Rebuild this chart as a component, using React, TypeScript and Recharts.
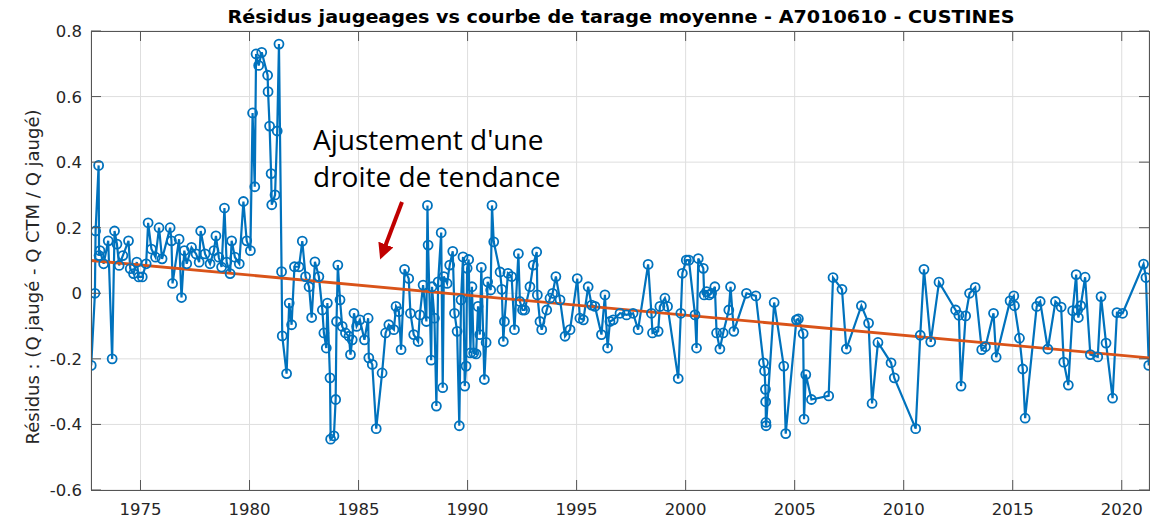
import React from "react";
import { LineChart, Line, XAxis, YAxis, CartesianGrid } from "recharts";

// dates of the gaugings (decimal years) and their residuals
const dates = [
  1972.74, 1972.91, 1972.94, 1973.08, 1973.1, 1973.14, 1973.31, 1973.52, 1973.7, 1973.81,
  1973.92, 1974.02, 1974.19, 1974.45, 1974.53, 1974.68, 1974.83, 1974.92, 1975.08, 1975.26,
  1975.35, 1975.5, 1975.69, 1975.85, 1975.99, 1976.36, 1976.42, 1976.47, 1976.77, 1976.88,
  1977.01, 1977.12, 1977.34, 1977.55, 1977.69, 1977.76, 1977.96, 1978.19, 1978.37, 1978.46,
  1978.59, 1978.72, 1978.85, 1978.95, 1979.11, 1979.18, 1979.33, 1979.53, 1979.72, 1979.87,
  1980.04, 1980.14, 1980.24, 1980.3, 1980.42, 1980.56, 1980.83, 1980.85, 1980.92, 1980.99,
  1981.02, 1981.17, 1981.27, 1981.35, 1981.47, 1981.5, 1981.7, 1981.82, 1981.93, 1982.06,
  1982.27, 1982.42, 1982.57, 1982.73, 1982.85, 1983.0, 1983.18, 1983.34, 1983.41, 1983.52,
  1983.57, 1983.69, 1983.72, 1983.87, 1983.95, 1983.99, 1984.05, 1984.15, 1984.25, 1984.4,
  1984.56, 1984.63, 1984.71, 1984.79, 1984.91, 1985.06, 1985.27, 1985.44, 1985.47, 1985.63,
  1985.81, 1986.08, 1986.24, 1986.39, 1986.62, 1986.72, 1986.85, 1986.95, 1987.11, 1987.3,
  1987.38, 1987.53, 1987.73, 1987.81, 1987.96, 1988.11, 1988.16, 1988.19, 1988.33, 1988.37,
  1988.48, 1988.57, 1988.65, 1988.79, 1988.86, 1988.91, 1989.06, 1989.18, 1989.32, 1989.4,
  1989.52, 1989.62, 1989.7, 1989.79, 1989.87, 1989.93, 1989.98, 1990.05, 1990.13, 1990.2,
  1990.28, 1990.39, 1990.48, 1990.56, 1990.63, 1990.77, 1990.85, 1990.92, 1991.06, 1991.12,
  1991.2, 1991.49, 1991.57, 1991.64, 1991.69, 1991.85, 1992.02, 1992.15, 1992.33, 1992.4,
  1992.52, 1992.62, 1992.86, 1993.01, 1993.17, 1993.2, 1993.32, 1993.4, 1993.63, 1993.78,
  1993.9, 1994.05, 1994.24, 1994.47, 1994.7, 1995.03, 1995.15, 1995.31, 1995.53, 1995.69,
  1995.84, 1996.14, 1996.3, 1996.42, 1996.53, 1996.68, 1996.99, 1997.29, 1997.59, 1997.82,
  1998.28, 1998.43, 1998.48, 1998.74, 1998.82, 1999.05, 1999.17, 1999.66, 1999.78, 1999.85,
  2000.03, 2000.15, 2000.43, 2000.5, 2000.58, 2000.81, 2000.85, 2000.96, 2001.08, 2001.19,
  2001.34, 2001.42, 2001.57, 2001.72, 2001.98, 2002.06, 2002.21, 2002.79, 2003.22, 2003.57,
  2003.62, 2003.66, 2003.67, 2003.68, 2003.69, 2004.06, 2004.5, 2004.59, 2005.08, 2005.17,
  2005.39, 2005.43, 2005.51, 2005.77, 2006.56, 2006.76, 2007.17, 2007.37, 2008.06, 2008.39,
  2008.55, 2008.82, 2009.42, 2009.57, 2010.55, 2010.76, 2010.93, 2011.24, 2011.62, 2012.38,
  2012.53, 2012.63, 2012.84, 2013.02, 2013.28, 2013.58, 2013.75, 2014.12, 2014.24, 2014.88,
  2015.05, 2015.08, 2015.31, 2015.46, 2015.57, 2016.1, 2016.26, 2016.61, 2016.96, 2017.22,
  2017.34, 2017.55, 2017.75, 2017.91, 2017.98, 2018.01, 2018.12, 2018.32, 2018.56, 2018.9,
  2019.05, 2019.28, 2019.58, 2019.78, 2020.04, 2021.0, 2021.11, 2021.24,
];

const residuals = [
  -0.22, 0.0, 0.19, 0.39, 0.115, 0.13, 0.09, 0.16, -0.2, 0.19,
  0.15, 0.085, 0.115, 0.16, 0.075, 0.06, 0.095, 0.05, 0.05, 0.09,
  0.215, 0.135, 0.11, 0.2, 0.105, 0.2, 0.16, 0.03, 0.165, -0.013,
  0.13, 0.09, 0.14, 0.12, 0.095, 0.19, 0.12, 0.09, 0.13, 0.175,
  0.11, 0.08, 0.26, 0.095, 0.06, 0.16, 0.11, 0.09, 0.28, 0.16,
  0.13, 0.55, 0.325, 0.73, 0.695, 0.735, 0.665, 0.615, 0.51, 0.365,
  0.27, 0.3, 0.495, 0.76, 0.066, -0.13, -0.245, -0.03, -0.096, 0.081,
  0.081, 0.159, 0.051, 0.02, -0.074, 0.096, 0.051, -0.051, -0.121, -0.167,
  -0.03, -0.258, -0.445, -0.435, -0.324, -0.086, 0.086, -0.02, -0.101, -0.121,
  -0.131, -0.187, -0.142, -0.061, -0.101, -0.081, -0.142, -0.076, -0.197, -0.217,
  -0.413, -0.243, -0.121, -0.096, -0.111, -0.04, -0.056, -0.172, 0.073, 0.045,
  -0.061, -0.126, -0.147, -0.066, 0.025, -0.086, 0.268, 0.147, -0.204, 0.02,
  -0.076, -0.344, 0.035, 0.185, -0.288, 0.051, 0.03, 0.086, 0.128, -0.061,
  -0.116, -0.404, -0.02, 0.111, -0.283, -0.222, 0.076, 0.103, -0.182, 0.02,
  -0.182, -0.185, -0.04, -0.126, 0.079, -0.263, -0.15, 0.035, 0.01, 0.268,
  0.157, 0.065, 0.012, -0.147, -0.086, 0.061, 0.051, -0.111, 0.121, -0.025,
  -0.051, -0.051, 0.02, 0.086, 0.126, -0.005, -0.086, -0.111, -0.051, -0.015,
  0.0, 0.051, -0.02, -0.131, -0.111, 0.045, -0.076, -0.081, 0.02, -0.036,
  -0.04, -0.126, -0.005, -0.167, -0.086, -0.081, -0.061, -0.066, -0.061, -0.111,
  0.088, -0.061, -0.121, -0.116, -0.04, -0.015, -0.04, -0.26, -0.061, 0.061,
  0.101, 0.101, -0.066, -0.167, 0.106, 0.076, -0.005, 0.005, -0.005, 0.0,
  0.02, -0.121, -0.17, -0.121, -0.051, 0.02, -0.116, 0.0, -0.008, -0.212,
  -0.237, -0.293, -0.331, -0.394, -0.404, -0.028, -0.222, -0.428, -0.081, -0.078,
  -0.123, -0.384, -0.248, -0.324, -0.313, 0.048, 0.012, -0.17, -0.038, -0.091,
  -0.336, -0.15, -0.212, -0.258, -0.413, -0.128, 0.073, -0.148, 0.034, -0.051,
  -0.067, -0.283, -0.069, 0.0, 0.018, -0.172, -0.163, -0.061, -0.195, -0.023,
  -0.008, -0.038, -0.137, -0.231, -0.381, -0.04, -0.025, -0.17, -0.025, -0.042,
  -0.21, -0.28, -0.053, 0.057, -0.051, -0.074, -0.038, 0.049, -0.187, -0.194,
  -0.01, -0.152, -0.32, -0.059, -0.061, 0.089, 0.048, -0.22,
];

// linear trend (two ends of the fitted line)
const trendDates = [1972.73, 2021.25];
const trendValues = [0.1, -0.197];

const yearTicks = [1975, 1980, 1985, 1990, 1995, 2000, 2005, 2010, 2015, 2020];
const residualTicks = [-0.6, -0.4, -0.2, 0, 0.2, 0.4, 0.6, 0.8];

const title = "Résidus jaugeages vs courbe de tarage moyenne - A7010610 - CUSTINES";
const yLabel = "Résidus : (Q jaugé - Q CTM / Q jaugé)";
const noteLines = ["Ajustement d'une", "droite de tendance"];

const residualRows = dates.map((d, i) => ({ date: d, residual: residuals[i] }));
const trendRows = trendDates.map((d, i) => ({ date: d, trend: trendValues[i] }));

const W = 1165;
const H = 519;
const PLOT = { left: 91, top: 31, width: 1058, height: 459 };
const PLOT_BOTTOM = PLOT.top + PLOT.height;
const PLOT_RIGHT = PLOT.left + PLOT.width;
const TICK_LEN = 10;
const FONT = '"DejaVu Sans", sans-serif';
const AXIS_COLOR = "#262626";
const FRAME = "#555";

const XTick = (props: any) => {
  const { x, payload } = props;
  return (
    <g>
      <line x1={x} x2={x} y1={PLOT_BOTTOM} y2={PLOT_BOTTOM - TICK_LEN} stroke={FRAME} />
      <line x1={x} x2={x} y1={PLOT.top} y2={PLOT.top + TICK_LEN} stroke={FRAME} />
      <text x={x} y={PLOT_BOTTOM + 25} textAnchor="middle" fill={AXIS_COLOR} fontSize={16.5}
        style={{ fontFamily: FONT }}>
        {payload.value}
      </text>
    </g>
  );
};

const YTick = (props: any) => {
  const { y, payload } = props;
  const v = payload.value;
  const label = Math.abs(v) < 1e-9 ? "0" : String(Number(v.toFixed(1)));
  return (
    <g>
      <line x1={PLOT.left} x2={PLOT.left + TICK_LEN} y1={y} y2={y} stroke={FRAME} />
      <line x1={PLOT_RIGHT} x2={PLOT_RIGHT - TICK_LEN} y1={y} y2={y} stroke={FRAME} />
      <text x={PLOT.left - 9} y={y} dy="0.36em" textAnchor="end" fill={AXIS_COLOR} fontSize={16.5}
        style={{ fontFamily: FONT }}>
        {label}
      </text>
    </g>
  );
};

export default function App() {
  return (
    <div style={{ position: "absolute", left: 0, top: 0, width: W, height: H, background: "#fff" }}>
      <LineChart
        width={W}
        height={H}
        data={residualRows}
        margin={{ top: PLOT.top, right: W - PLOT_RIGHT, bottom: 4, left: 31 }}
      >
        <CartesianGrid stroke="#dedede" strokeWidth={1} />
        <XAxis
          dataKey="date"
          type="number"
          domain={[1972.73, 2021.25]}
          allowDataOverflow
          ticks={yearTicks}
          interval={0}
          height={25}
          tickSize={0}
          tickLine={false}
          axisLine={false}
          tick={<XTick />}
        />
        <YAxis
          type="number"
          domain={[-0.6, 0.8]}
          allowDataOverflow
          ticks={residualTicks}
          interval={0}
          width={60}
          tickSize={0}
          tickLine={false}
          axisLine={false}
          tick={<YTick />}
        />
        <Line
          dataKey="residual"
          stroke="#0072BD"
          strokeWidth={2.2}
          dot={{ r: 4.5, stroke: "#0072BD", strokeWidth: 1.8, fill: "none" }}
          activeDot={false}
          isAnimationActive={false}
        />
        <Line
          data={trendRows}
          dataKey="trend"
          stroke="#D95319"
          strokeWidth={2.8}
          dot={false}
          activeDot={false}
          isAnimationActive={false}
        />
      </LineChart>
      <div
        style={{
          position: "absolute",
          left: PLOT.left,
          top: PLOT.top,
          width: PLOT.width + 1,
          height: PLOT.height + 1,
          border: `1px solid ${FRAME}`,
          boxSizing: "border-box",
          pointerEvents: "none",
        }}
      />
      <svg width={W} height={H} style={{ position: "absolute", left: 0, top: 0, pointerEvents: "none" }}>
        <defs>
          <marker id="head" markerWidth="4" markerHeight="4" refX="2" refY="2" orient="auto">
            <path d="M0,0 L4,2 L0,4 Z" fill="#C00000" />
          </marker>
        </defs>
        <text x={621} y={23} textAnchor="middle" fontWeight="bold" fontSize={18.5} fill="#000"
          textLength={787} lengthAdjust="spacingAndGlyphs" style={{ fontFamily: FONT }}>
          {title}
        </text>
        <text transform="translate(39,277) rotate(-90)" textAnchor="middle" fontSize={18} fill={AXIS_COLOR}
          style={{ fontFamily: FONT }}>
          {yLabel}
        </text>
        {noteLines.map((t, i) => (
          <text key={t} x={313} y={150 + i * 37} fontSize={28} fill="#000"
            style={{ fontFamily: '"Open Sans", sans-serif' }}>
            {t}
          </text>
        ))}
        <line x1={402} y1={202} x2={383} y2={252} stroke="#C00000" strokeWidth={4} markerEnd="url(#head)" />
      </svg>
    </div>
  );
}
